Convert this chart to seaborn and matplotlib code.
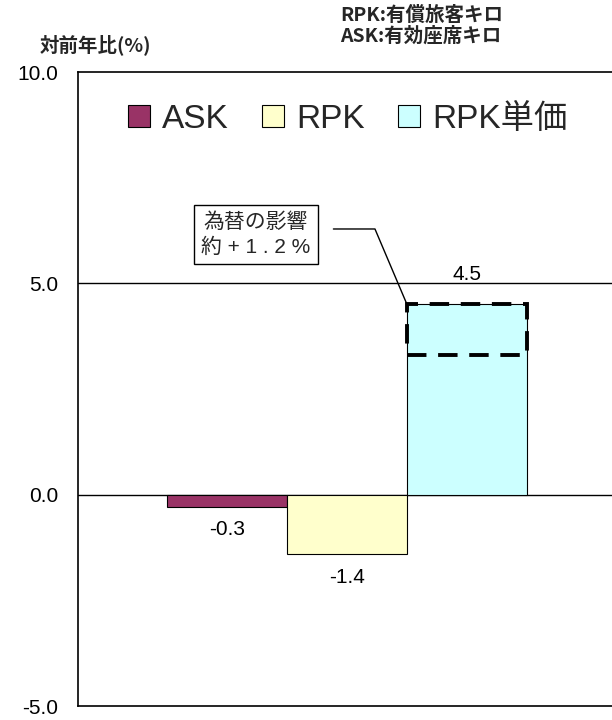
import matplotlib
matplotlib.use("Agg")
import matplotlib.pyplot as plt
import numpy as np
import pandas as pd
import seaborn as sns
from matplotlib.patches import Rectangle

# Year-on-year change (%) of ASK, RPK and RPK unit price
series = ["ASK", "RPK", "RPK単価"]
values = [-0.3, -1.4, 4.5]
colors = ["#993366", "#FFFFCC", "#CCFFFF"]
fx_effect = 1.2          # currency effect contained in the RPK unit price
yticks = [-5.0, 0.0, 5.0, 10.0]
ytick_labels = ["-5.0", "0.0", "5.0", "10.0"]
group = "対前年比"

sns.set_theme(style="white")
plt.rcParams["font.family"] = ["Liberation Sans", "Noto Sans CJK JP"]

fig = plt.figure(figsize=(6.12, 7.2), dpi=100)
ax = fig.add_axes([78 / 612, 14 / 720, 534 / 612, 634 / 720])

df = pd.DataFrame({"grp": [group] * len(series), "series": series, "value": values})
sns.barplot(data=df, x="grp", y="value", hue="series", hue_order=series,
            palette=colors, saturation=1, edgecolor="black", linewidth=0.8,
            width=0.8, errorbar=None, legend=False, ax=ax, zorder=2)

ax.set_xlim(-0.598, 0.589)
ax.set_ylim(-5, 10)
ax.set_xlabel("")
ax.set_ylabel("")
ax.set_xticks([])
ax.set_yticks(yticks)
ax.set_yticklabels(ytick_labels, fontsize=15, color="black")
ax.tick_params(axis="y", length=0, pad=14)
for y in (0.0, 5.0):
    ax.axhline(y, color="black", lw=1.0, zorder=1)
for side in ("left", "top", "bottom"):
    ax.spines[side].set_color("black")
    ax.spines[side].set_linewidth(1.2)
ax.spines["right"].set_visible(False)

# value labels
paddings = [9, 10.5, 14.5]
for cont, pad in zip(ax.containers, paddings):
    ax.bar_label(cont, fmt="%.1f", padding=pad, fontsize=15, color="black")

# dashed frame marking the currency effect inside the unit price bar
bar = ax.containers[2].patches[0]
x0, w, top = bar.get_x(), bar.get_width(), bar.get_height()
ax.add_patch(Rectangle((x0, top - fx_effect), w, fx_effect, fill=False,
                       edgecolor="black", lw=2.8, ls=(0, (5, 3)), zorder=3))

ax.annotate("為替の影響\n約 + 1 . 2 %", xy=(x0, top), xycoords="data",
            xytext=(-0.203, 6.16), textcoords="data", ha="center", va="center",
            fontsize=15, linespacing=1.35, zorder=4,
            bbox=dict(boxstyle="square,pad=0.35", fc="white", ec="black", lw=1),
            arrowprops=dict(arrowstyle="-", color="black", lw=1,
                            connectionstyle="angle,angleA=0,angleB=113,rad=0",
                            relpos=(1.0, 0.62), shrinkA=11, shrinkB=0))

handles = [c.patches[0] for c in ax.containers]
ax.legend(handles, series, loc="center left",
          bbox_to_anchor=(128 / 612, 1 - 119 / 720), bbox_transform=fig.transFigure,
          ncol=3, frameon=False, fontsize=24, handlelength=0.66, handleheight=0.66,
          handletextpad=0.36, columnspacing=1.0, borderpad=0, borderaxespad=0)

fig.text(40 / 612, 1 - 45 / 720, "対前年比(%)", fontsize=14, fontweight="bold",
         family=["Noto Sans CJK JP"], ha="left", va="center")
fig.text(340 / 612, 1 - 15 / 720, "RPK:有償旅客キロ", fontsize=14, fontweight="bold",
         family=["Noto Sans CJK JP"], ha="left", va="center")
fig.text(340 / 612, 1 - 36 / 720, "ASK:有効座席キロ", fontsize=14, fontweight="bold",
         family=["Noto Sans CJK JP"], ha="left", va="center")

fig.savefig("out.png", dpi=100)
